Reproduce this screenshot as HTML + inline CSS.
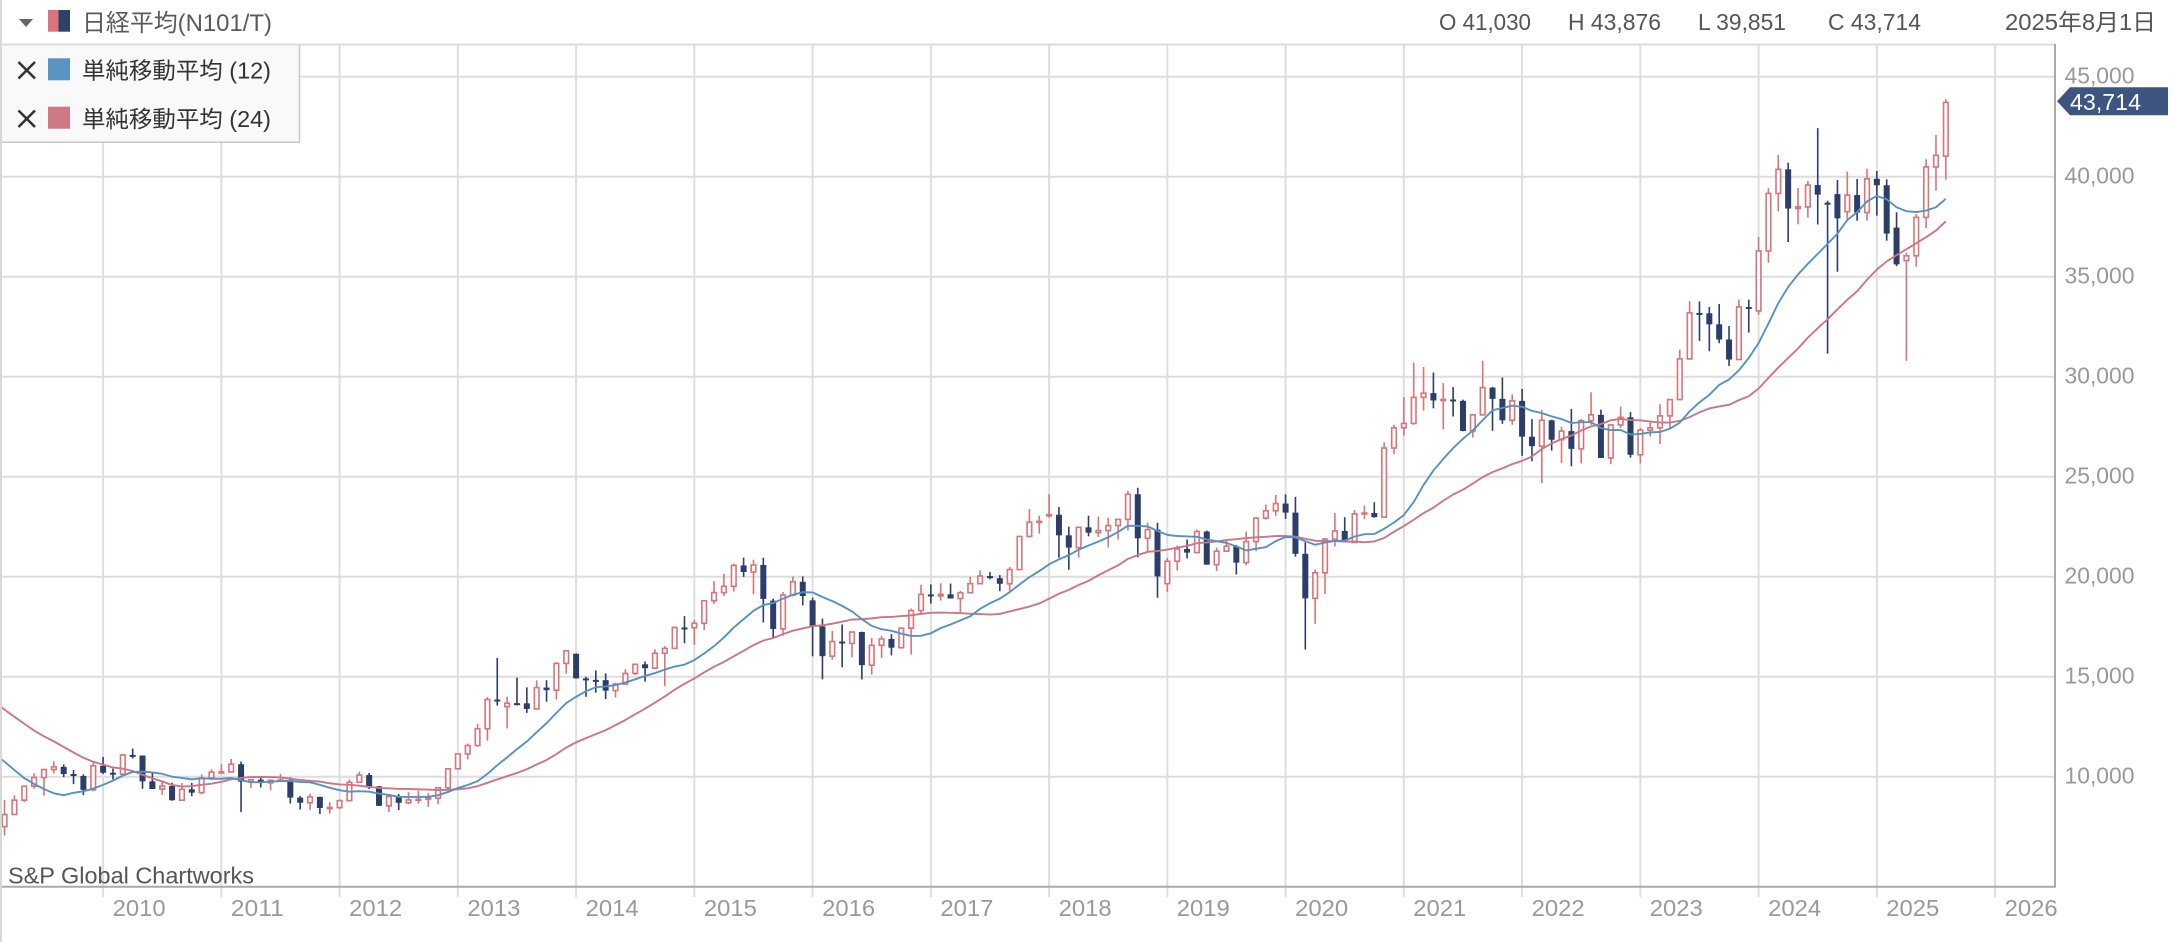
<!DOCTYPE html>
<html><head><meta charset="utf-8">
<style>
html,body{margin:0;padding:0;background:#fff;}
body{width:2176px;height:942px;overflow:hidden;}
svg{display:block;}
text{font-family:"Liberation Sans","Noto Sans CJK JP",sans-serif;}
</style></head><body>
<svg id="c" width="2176" height="942" viewBox="0 0 2176 942" xmlns="http://www.w3.org/2000/svg">
<defs><clipPath id="pc"><rect x="0" y="45" width="2054" height="841"/></clipPath></defs>
<rect width="2176" height="942" fill="#fff"/>
<g id="grid"></g>
<g id="plot" clip-path="url(#pc)"></g>
<line x1="0" y1="44.5" x2="2055" y2="44.5" stroke="#dcdcdc" stroke-width="2"/>
<line x1="2055" y1="44" x2="2055" y2="887" stroke="#aaa" stroke-width="2"/>
<line x1="0" y1="886.7" x2="2056" y2="886.7" stroke="#aaa" stroke-width="2"/>
<line x1="1" y1="0" x2="1" y2="942" stroke="#d8d8d8" stroke-width="2"/>
<g id="labels" font-size="23" fill="#999"></g>
<polygon points="19,19 33,19 26,27" fill="#666"/>
<rect x="48" y="10" width="10.5" height="21.7" fill="#d9747a"/>
<rect x="58.5" y="10" width="11.5" height="21.7" fill="#2e4169"/>
<text x="82" y="31" font-size="24" fill="#5a5a5a" textLength="190" lengthAdjust="spacingAndGlyphs">日経平均(N101/T)</text>
<g font-size="23" fill="#555">
<text x="1439" y="30" textLength="92" lengthAdjust="spacingAndGlyphs">O 41,030</text>
<text x="1568" y="30" textLength="93" lengthAdjust="spacingAndGlyphs">H 43,876</text>
<text x="1698" y="30" textLength="88" lengthAdjust="spacingAndGlyphs">L 39,851</text>
<text x="1828" y="30" textLength="93" lengthAdjust="spacingAndGlyphs">C 43,714</text>
<text x="2005" y="30" textLength="151" lengthAdjust="spacingAndGlyphs">2025年8月1日</text>
</g>
<rect x="0" y="45.5" width="299" height="96.5" fill="#f9f9f9"/>
<line x1="299.5" y1="45" x2="299.5" y2="142.5" stroke="#c8c8c8" stroke-width="1.5"/>
<line x1="0" y1="142.3" x2="300" y2="142.3" stroke="#c8c8c8" stroke-width="1.5"/>
<line x1="1" y1="45" x2="1" y2="143" stroke="#d8d8d8" stroke-width="2"/>
<g stroke="#333" stroke-width="2.6">
<line x1="18.5" y1="62" x2="35" y2="78.5"/><line x1="35" y1="62" x2="18.5" y2="78.5"/>
<line x1="18.5" y1="110.5" x2="35" y2="127"/><line x1="35" y1="110.5" x2="18.5" y2="127"/>
</g>
<rect x="48" y="58.3" width="22" height="22" fill="#5b93c5"/>
<rect x="48" y="106.7" width="22" height="22" fill="#cf7985"/>
<g font-size="23" fill="#333">
<text x="82" y="78.5" textLength="189" lengthAdjust="spacingAndGlyphs">単純移動平均 (12)</text>
<text x="82" y="127" textLength="189" lengthAdjust="spacingAndGlyphs">単純移動平均 (24)</text>
</g>
<text x="8" y="883.5" font-size="23" fill="#555" textLength="246" lengthAdjust="spacingAndGlyphs">S&amp;P Global Chartworks</text>
<polygon points="2057,101.3 2070,87.3 2168,87.3 2168,115.3 2070,115.3" fill="#3d5581"/>
<text x="2070" y="110" font-size="23" fill="#fff" textLength="71" lengthAdjust="spacingAndGlyphs">43,714</text>
</svg>
<script>
(function(){
var NS="http://www.w3.org/2000/svg";
function el(tag,attrs,parent,txt){var e=document.createElementNS(NS,tag);for(var k in attrs)e.setAttribute(k,attrs[k]);if(txt!==undefined)e.textContent=txt;parent.appendChild(e);return e;}
function X(t){return 103.1+(t-12)*118.25/12;}
function Y(v){return 76.7+(45000-v)*0.02;}
var grid=document.getElementById('grid'),plot=document.getElementById('plot'),lab=document.getElementById('labels');
for(var v=10000;v<=45000;v+=5000){
 var y=Y(v);
 el('line',{x1:0,y1:y,x2:2055,y2:y,stroke:'#dedede','stroke-width':2},grid);
 el('text',{x:2064.5,y:(y+6.6).toFixed(1),textLength:70,lengthAdjust:'spacingAndGlyphs'},lab,(v/1000)+',000');
}
for(var yr=2010;yr<=2026;yr++){
 var x=103.1+(yr-2010)*118.25;
 el('line',{x1:x,y1:45,x2:x,y2:897,stroke:'#dedede','stroke-width':2},grid);
 el('text',{x:(x+9.5).toFixed(1),y:916,textLength:53,lengthAdjust:'spacingAndGlyphs'},lab,String(yr));
}
var pre=[17288,17400,17875,18138,17248,16569,16785,16737,15680,15307,13592,13603,12525,13849,14338,13481,13376,13072,11259,8576,8512,8859,7994,7568];
var raw=[
"7500 8843 7054 8109|8109 9070 8084 8828|8828 9554 8723 9522|9522 10170 9398 9958|9958 10400 9050 10356|10356 10767 10164 10492|10492 10616 9979 10133|10133 10336 9628 10034|10034 10121 9076 9345|9345 10707 9270 10546",
"10546 10982 10139 10198|10198 10404 9867 10126|10126 11148 10126 11089|11089 11408 10914 11057|11057 11057 9395 9768|9768 10238 9379 9382|9382 9797 9091 9537|9537 9696 8796 8824|8824 9685 8800 9369|9369 9691 9027 9202|9202 10115 9123 9937|9937 10371 9930 10228",
"10228 10620 10229 10237|10237 10891 10237 10624|10624 10754 8227 9755|9755 9849 9441 9849|9849 10017 9460 9693|9693 9868 9318 9816|9816 10137 9777 9833|9833 9968 8656 8955|8955 9040 8359 8700|8700 9152 8343 8988|8988 9008 8135 8434|8434 8723 8156 8455",
"8455 8866 8378 8802|8802 9866 8802 9723|9723 10255 9690 10083|10083 10190 9388 9520|9520 9535 8542 8542|8542 9045 8238 9006|9006 9136 8328 8695|8695 9222 8617 8839|8839 9288 8650 8870|8870 9180 8488 8928|8928 9485 8619 9446|9446 10433 9380 10395",
"10395 11167 10398 11138|11138 11662 10857 11559|11559 12650 11499 12397|12397 13980 11805 13860|13860 15942 13555 13774|13500 14000 12415 13677|13677 14953 13567 13668|13668 14467 13188 13389|13389 14817 13375 14455|14455 14827 13748 14327|14327 15727 13853 15662|15662 16320 15146 16291",
"16147 16164 14915 14915|14915 15000 13995 14841|14841 15312 14203 14828|14828 15164 13885 14304|14304 14700 13964 14632|14632 15376 14749 15162|15162 15646 15084 15621|15621 15759 14753 15425|15425 16375 15436 16174|16174 16533 14529 16414|16414 17520 16414 17460|17460 18030 16672 17451",
"17451 17850 16593 17674|17674 18798 17334 18798|18798 19778 18629 19207|19207 20133 19034 19520|19520 20655 19258 20563|20563 20952 19990 20236|20236 20850 19115 20585|20585 20946 17714 18890|18800 18900 16901 17388|17388 19230 17051 19083|19083 20012 19012 19747|19747 20013 18563 19034",
"18818 18951 16018 17518|17518 17905 14866 16027|16027 17291 15857 16759|16759 17613 15471 16666|16666 17251 15975 17235|17235 17251 14864 15576|15576 16939 15106 16569|16569 17045 15935 16887|16887 17130 16064 16450|16450 17473 16400 17425|17425 18409 16111 18308|18308 19592 18139 19114",
"19114 19615 18650 19041|19041 19668 18805 19119|19119 19656 18909 18909|18909 19289 18224 19197|19197 19998 19190 19651|19651 20318 19620 20033|20033 20230 19868 19925|19925 20080 19280 19646|19646 20481 19239 20356|20356 22020 20339 22012|22012 23383 21973 22725|22725 23050 22153 22765",
"23073 24129 22961 23098|23098 23486 20950 22068|22068 22502 20347 21454|21454 22500 20955 22468|22468 23050 22017 22202|22202 23011 21990 22305|22305 22949 21462 22554|22554 22869 21851 22865|22865 24286 22307 24120|24120 24448 20971 21920|21920 22698 21243 22351|22351 22698 18948 20015",
"19655 20941 19241 20773|20773 21556 20315 21385|21385 21860 20911 21206|21206 22362 21378 22259|22259 22307 20601 20601|20601 21453 20289 21276|21276 21823 21283 21521|21521 21592 20110 20704|20704 22255 20572 21756|21756 22974 21276 22927|22927 23608 22850 23294|23294 24091 23044 23657",
"23657 24115 22892 23205|23205 23995 21004 21143|21143 21719 16358 18917|18917 20365 17646 20194|20194 21939 19132 21878|21878 23185 21511 22288|22288 22975 21710 21710|21710 23338 21821 23140|23140 23559 22879 23185|23185 23725 22948 22977|22977 26716 22948 26434|26434 27602 26121 27444",
"27444 28979 27055 27663|27663 30714 27596 28966|28966 30485 28308 29179|29179 30208 28419 28813|28813 29685 27385 28860|28860 29480 28010 28792|28792 28852 27272 27284|27284 28139 26954 28090|28090 30795 28070 29453|29453 29490 27293 28893|28893 29960 27644 27822|27822 29121 27594 28792",
"28792 29388 26044 27002|27002 27880 25776 26527|26527 28338 24681 27821|27821 27850 26304 26848|26848 27500 25688 27280|27280 28389 25520 26393|26393 27880 25661 27802|27802 29222 27594 28092|28092 28353 25937 25937|25937 27587 25621 27587|27587 28502 27436 27969|27969 28226 25953 26095",
"26095 27433 25661 27327|27327 27697 27016 27446|27446 28623 26632 28041|28041 28879 27427 28856|28856 31352 28826 30888|30888 33772 31000 33189|33189 33762 31791 33172|33172 33488 31275 32619|32619 33634 31674 31858|31858 32533 30538 30859|30859 33853 30993 33487|33487 33853 32205 33464",
"33288 36984 33090 36287|36287 39426 35704 39166|39166 41087 38271 40369|40369 40697 36733 38406|38406 39437 37617 38488|38488 39788 37950 39583|39583 42427 37611 39102|38700 38800 31156 38648|39130 39829 35247 37919|38250 40257 37800 39081|39081 39884 37800 38208|38208 40398 37800 39895",
"39895 40288 38055 39572|39572 39866 36800 37156|37456 38220 35526 35618|35800 36200 30792 36045|36045 38130 35500 37965|37965 40870 37420 40487|40487 42085 39300 41070|41030 43876 39851 43714"
].join('|');
var rows=raw.split('|').map(function(r){return r.trim().split(/\s+/).map(Number);});
var RED='#d8747a',NAVY='#2b3d68';
var closes=pre.slice();rows.forEach(function(r){closes.push(r[3]);});
var t0=-22;
function ma(n){var pts=[];for(var i=n-1;i<closes.length;i++){var s=0;for(var j=i-n+1;j<=i;j++)s+=closes[j];pts.push(X(i+t0).toFixed(2)+','+Y(s/n).toFixed(2));}return pts.join(' ');}
rows.forEach(function(r,i){
 var t=i+2,cx=X(t),o=r[0],h=r[1],l=r[2],c=r[3];
 h=Math.max(h,o,c);l=Math.min(l,o,c);
 var up=c>=o,col=up?RED:NAVY;
 el('line',{x1:cx,y1:Y(h),x2:cx,y2:Y(l),stroke:col,'stroke-width':1.6},plot);
 if(up){
  var yt=Y(c),yb=Y(o),hh=Math.max(yb-yt,1);
  el('rect',{x:(cx-2.3).toFixed(2),y:yt.toFixed(2),width:4.6,height:hh.toFixed(2),fill:'#fff',stroke:col,'stroke-width':1.6},plot);
 }else{
  var yt2=Y(o),yb2=Y(c),hh2=Math.max(yb2-yt2,2);
  el('rect',{x:(cx-3).toFixed(2),y:yt2.toFixed(2),width:6,height:hh2.toFixed(2),fill:col},plot);
 }
});
el('polyline',{points:ma(24),fill:'none',stroke:'#cd7683','stroke-width':1.9,'stroke-linejoin':'round'},plot);
el('polyline',{points:ma(12),fill:'none',stroke:'#5592c4','stroke-width':1.9,'stroke-linejoin':'round'},plot);
})();
</script>
</body></html>
